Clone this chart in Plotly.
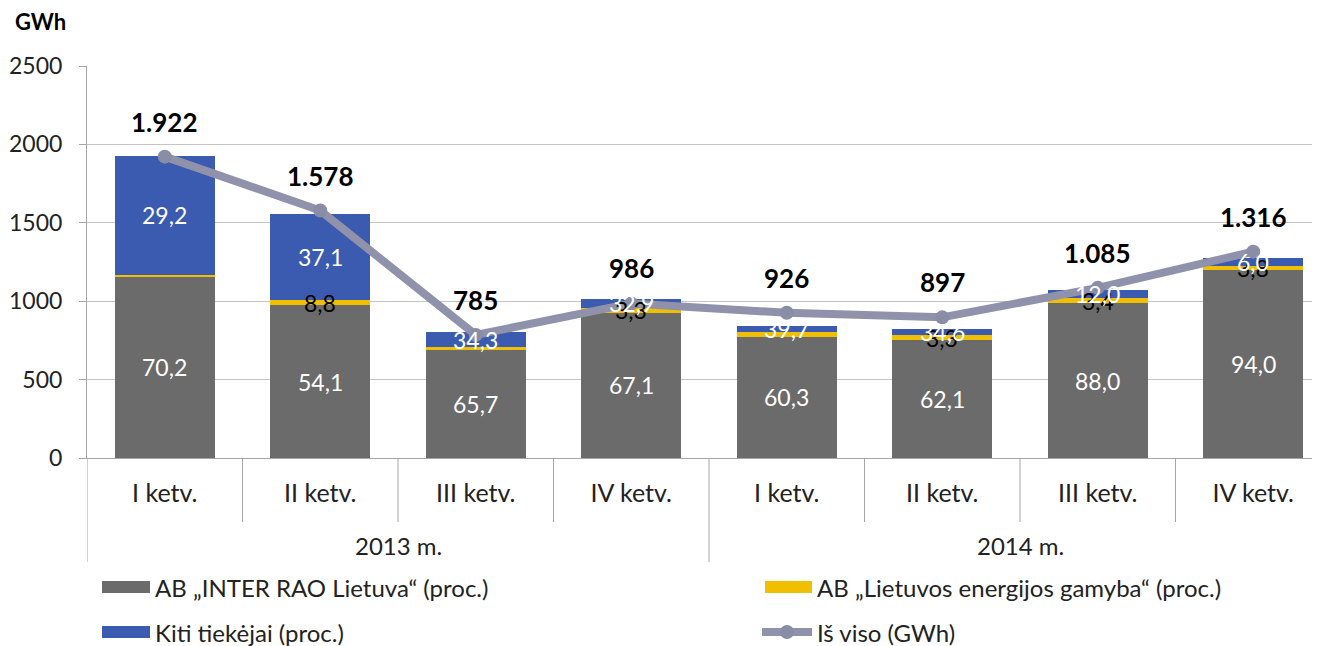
import plotly.graph_objects as go

# ---- data ----
quarters = ["I ketv.", "II ketv.", "III ketv.", "IV ketv.", "I ketv.", "II ketv.", "III ketv.", "IV ketv."]
years = ["2013 m.", "2014 m."]
inter_rao_gwh = [1158, 973, 691, 925, 772, 755, 988, 1196]
leg_gwh = [11, 36, 15, 32, 32, 27, 32, 30]
kiti_gwh = [760, 546, 98, 59, 40, 38, 53, 49]
total_gwh = [1922, 1578, 785, 986, 926, 897, 1085, 1316]
total_labels = ["1.922", "1.578", "785", "986", "926", "897", "1.085", "1.316"]
inter_rao_labels = ["70,2", "54,1", "65,7", "67,1", "60,3", "62,1", "88,0", "94,0"]
leg_labels = ["", "8,8", "", "3,3", "", "3,3", "3,4", "3,8"]
kiti_labels = ["29,2", "37,1", "34,3", "32,9", "39,7", "34,6", "12,0", "6,0"]
series_names = ["AB „INTER RAO Lietuva“ (proc.)", "AB „Lietuvos energijos gamyba“ (proc.)",
                "Kiti tiekėjai (proc.)", "Iš viso (GWh)"]

FONT = "Lato"
GRAY = "#6b6b6b"
YEL = "#efbf00"
BLUE = "#3a5bb0"
LINE = "#8f92aa"
TXT = "#222222"

OFF = 8  # page body margin
W, H = 1320 - OFF, 646 - OFF
L, T, B = 87 - OFF, 66 - OFF, 188
PW = W - L
PH = H - T - B


def px(xp):  # page pixel x -> paper
    return (xp - OFF - L) / PW


def py(yp):  # page pixel y -> paper
    return (H - B - (yp - OFF)) / PH


x = list(range(len(quarters)))
fig = go.Figure()
fig.add_trace(go.Bar(x=x, y=inter_rao_gwh, name=series_names[0], marker=dict(color=GRAY, line=dict(width=0)),
                     width=0.643, showlegend=False))
fig.add_trace(go.Bar(x=x, y=leg_gwh, name=series_names[1], marker=dict(color=YEL, line=dict(width=0)),
                     width=0.643, showlegend=False))
fig.add_trace(go.Bar(x=x, y=kiti_gwh, name=series_names[2], marker=dict(color=BLUE, line=dict(width=0)),
                     width=0.643, showlegend=False))
fig.add_trace(go.Scatter(x=x, y=total_gwh, name=series_names[3], mode="lines+markers",
                         line=dict(color=LINE, width=8), marker=dict(color="#8a8da6", size=14),
                         showlegend=False))

ann = []
for i in x:
    g = inter_rao_gwh[i]
    yv = leg_gwh[i]
    b = kiti_gwh[i]
    ann.append(dict(x=i, y=g / 2, text=inter_rao_labels[i], showarrow=False,
                    font=dict(family=FONT, size=23, color="white")))
    if leg_labels[i]:
        ann.append(dict(x=i, y=g + yv / 2, text=leg_labels[i], showarrow=False,
                        font=dict(family=FONT, size=23, color="black")))
    ann.append(dict(x=i, y=g + yv + b / 2, text=kiti_labels[i], showarrow=False,
                    font=dict(family=FONT, size=23, color="white")))
    ann.append(dict(x=i, y=total_gwh[i], yshift=35, text="<b>" + total_labels[i] + "</b>", showarrow=False,
                    font=dict(family=FONT, size=26, color="black")))

# year labels
for k, yr in enumerate(years):
    ann.append(dict(x=1.5 + 4 * k, xref="x", y=py(545), yref="paper", text=yr, showarrow=False,
                    xanchor="center", yanchor="middle",
                    font=dict(family=FONT, size=24, color=TXT)))

ann.append(dict(x=px(40), y=py(22), xref="paper", yref="paper", text="<b>GWh</b>", showarrow=False,
                xanchor="center", yanchor="middle",
                font=dict(family=FONT, size=22, color="black")))

shapes = []
# category dividers
for k in range(9):
    xb = -0.5 + k
    long = k in (0, 4, 8)
    shapes.append(dict(type="line", xref="x", yref="paper", x0=xb, x1=xb, y0=0,
                       y1=py(562 if long else 522), line=dict(color="#a6a6a6", width=1)))

# legend (manual)
leg_items = [
    (102, 150, 587, GRAY, series_names[0], "bar"),
    (765, 812, 587, YEL, series_names[1], "bar"),
    (102, 150, 632, BLUE, series_names[2], "bar"),
    (762, 812, 632, LINE, series_names[3], "line"),
]
for x0, x1, yy, col, name, kind in leg_items:
    if kind == "bar":
        shapes.append(dict(type="rect", xref="paper", yref="paper", x0=px(x0), x1=px(x1),
                           y0=py(yy + 6), y1=py(yy - 6), fillcolor=col, line=dict(width=0)))
    else:
        shapes.append(dict(type="line", xref="paper", yref="paper", x0=px(x0), x1=px(x1),
                           y0=py(yy), y1=py(yy), line=dict(color=col, width=8)))
        cx = (x0 + x1) / 2
        shapes.append(dict(type="circle", xref="paper", yref="paper", x0=px(cx - 7), x1=px(cx + 7),
                           y0=py(yy + 7), y1=py(yy - 7), fillcolor="#8a8da6", line=dict(width=0)))
    ann.append(dict(x=px(x1 + 3), y=py(yy), xref="paper", yref="paper", text=name, showarrow=False,
                    xanchor="left", yanchor="middle", font=dict(family=FONT, size=24, color=TXT)))

fig.update_layout(
    width=W, height=H, margin=dict(l=L, r=0, t=T, b=B, pad=0),
    barmode="stack", plot_bgcolor="white", paper_bgcolor="white",
    font=dict(family=FONT, size=22, color=TXT),
    annotations=ann, shapes=shapes, showlegend=False,
    xaxis=dict(range=[-0.5, -0.5 + PW / 155.5], tickmode="array", tickvals=x, ticktext=quarters,
               showgrid=False, zeroline=False, showline=True, linecolor="#a6a6a6", linewidth=1,
               ticks="outside", ticklen=13, tickcolor="rgba(0,0,0,0)",
               tickfont=dict(family=FONT, size=25, color=TXT)),
    yaxis=dict(range=[0, 2500], tickvals=[0, 500, 1000, 1500, 2000, 2500], tickformat="d",
               showgrid=True, gridcolor="#c4c4c4", gridwidth=1, zeroline=False,
               showline=True, linecolor="#a6a6a6", linewidth=1,
               ticks="outside", ticklen=7, tickcolor="#a6a6a6", ticklabelstandoff=12,
               tickfont=dict(family=FONT, size=23, color=TXT)),
)

fig.write_html("out.html")
